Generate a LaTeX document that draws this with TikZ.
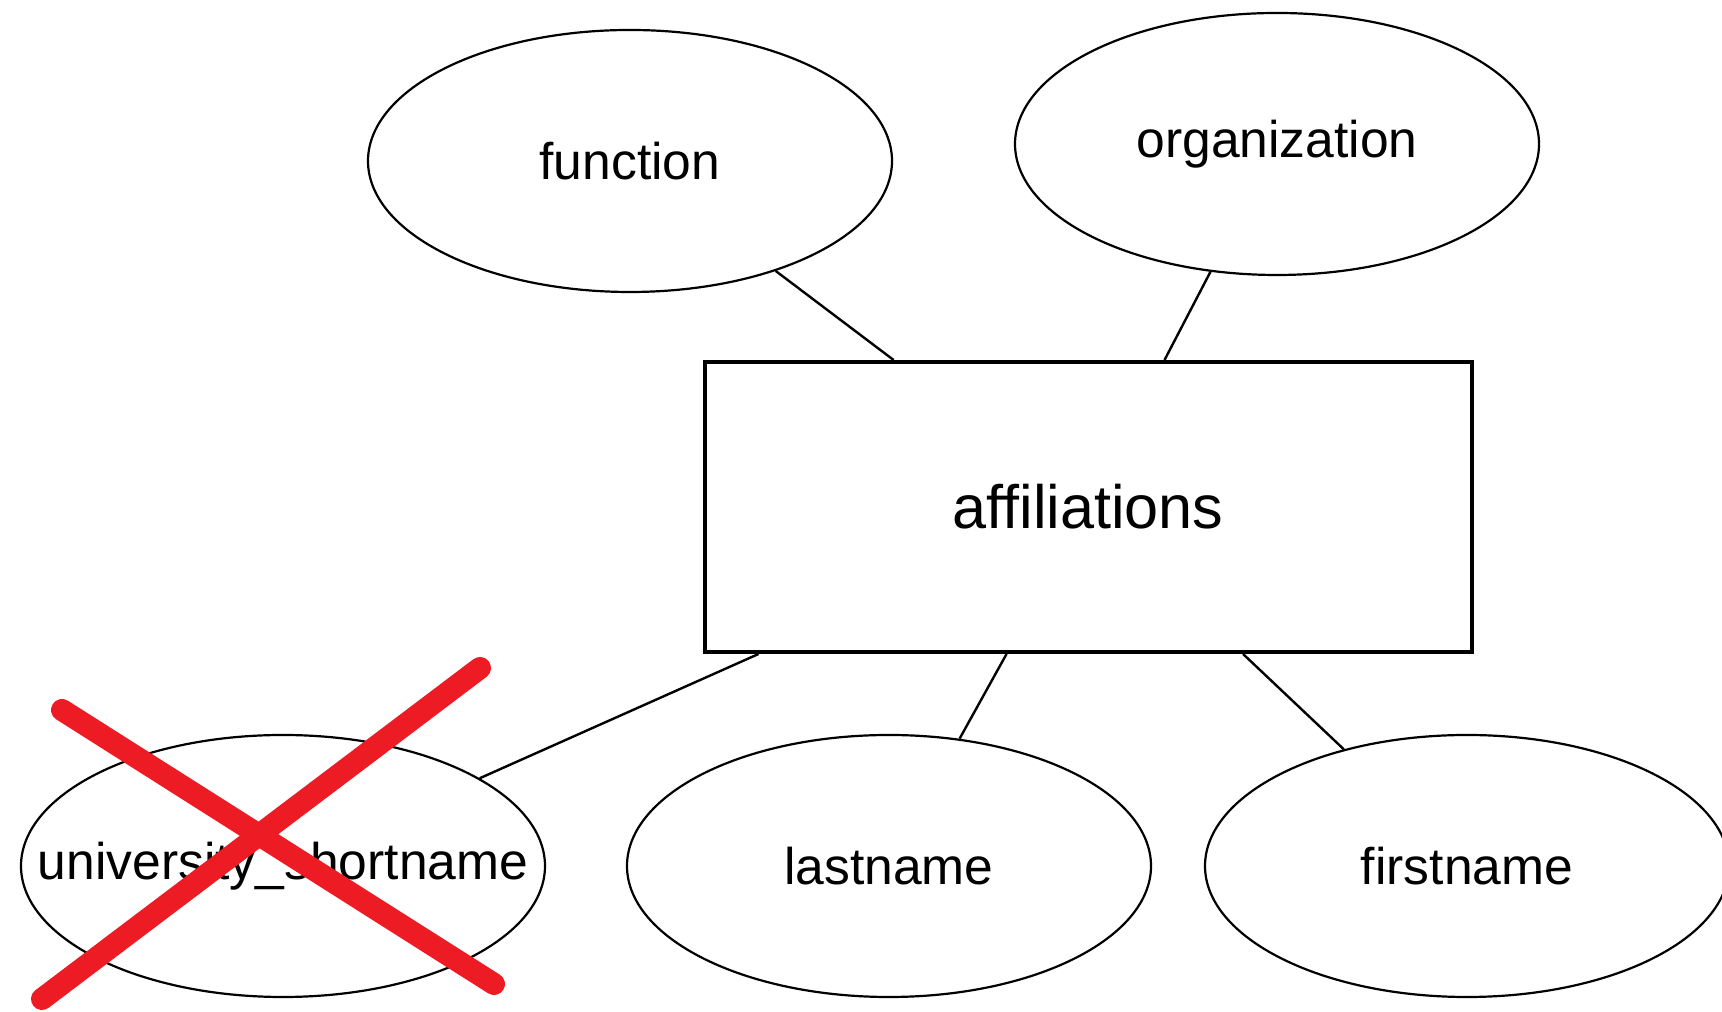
\documentclass[tikz,border=0pt]{standalone}
\usepackage{fontspec}
\setmainfont{Liberation Sans}
\usetikzlibrary{shapes.geometric}
\definecolor{crossred}{RGB}{237,28,36}

\begin{document}
\begin{tikzpicture}[x=0.25pt, y=-0.25pt,
    attr/.style={ellipse, draw, line width=0.55pt, minimum width=131pt, minimum height=65.5pt, inner sep=0pt, font=\fontsize{12.9}{15}\selectfont},
    entity/.style={rectangle, draw, line width=1pt, minimum width=191.75pt, minimum height=72.5pt, font=\fontsize{15.3}{18}\selectfont},
    link/.style={line width=0.6pt},
    strike/.style={draw=crossred, line width=5.5pt, line cap=round}]
    \useasboundingbox (0,0) rectangle (1722,1012);

    \node (aff) [entity] at (1088,507) {affiliations};

    \node (func) [attr] at (630,161) {function};
    \node (org) [attr] at (1277,144) {organization};
    \node (univ) [attr, inner xsep=-15pt] at (283,866) {university\_shortname};
    \node (last) [attr] at (889,866) {lastname};
    \node (first) [attr] at (1467,866) {firstname};

    \draw[link] (func) -- (aff);
    \draw[link] (org) -- (aff);
    \draw[link] (aff) -- (univ);
    \draw[link] (aff) -- (last);
    \draw[link] (aff) -- (first);

    % crossed out attribute
    \draw[strike] (62,710) -- (494,984);
    \draw[strike] (480,668) -- (42,999);
\end{tikzpicture}
\end{document}
